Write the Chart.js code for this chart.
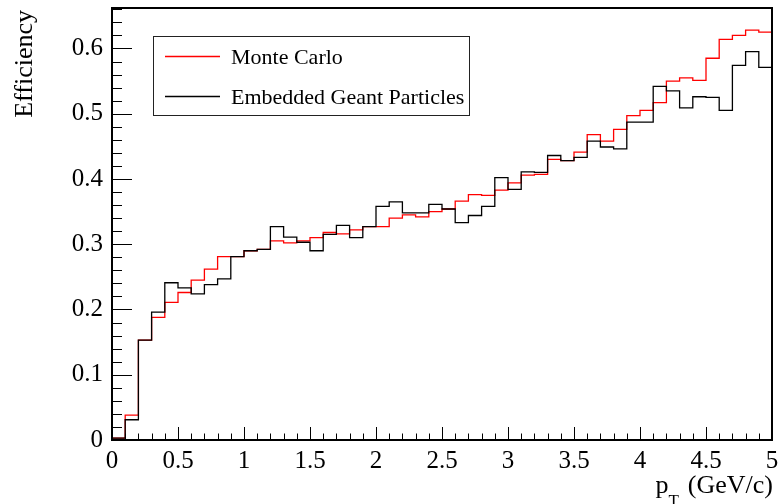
<!DOCTYPE html>
<html>
<head>
<meta charset="utf-8">
<script src="https://cdn.jsdelivr.net/npm/chart.js@4"></script>
<style>
  body { margin: 0; background: #fff; }
  #wrap { width: 778px; height: 504px; }
</style>
</head>
<body>
<div id="wrap"><canvas id="effChart" width="778" height="504"></canvas></div>
<script>
// bin low edges in pT (GeV/c), plus the upper edge of the last bin
const binEdges = [0, 0.1, 0.2, 0.3, 0.4, 0.5, 0.6, 0.7, 0.8, 0.9,
  1.0, 1.1, 1.2, 1.3, 1.4, 1.5, 1.6, 1.7, 1.8, 1.9,
  2.0, 2.1, 2.2, 2.3, 2.4, 2.5, 2.6, 2.7, 2.8, 2.9,
  3.0, 3.1, 3.2, 3.3, 3.4, 3.5, 3.6, 3.7, 3.8, 3.9,
  4.0, 4.1, 4.2, 4.3, 4.4, 4.5, 4.6, 4.7, 4.8, 4.9, 5.0];

// efficiency per bin, Monte Carlo
const monteCarlo = [0.003, 0.038, 0.153, 0.188, 0.211, 0.226, 0.245, 0.262, 0.281, 0.281,
  0.290, 0.292, 0.305, 0.302, 0.305, 0.310, 0.318, 0.316, 0.322, 0.327,
  0.327, 0.340, 0.345, 0.342, 0.350, 0.354, 0.366, 0.376, 0.375, 0.383,
  0.394, 0.406, 0.407, 0.430, 0.428, 0.441, 0.468, 0.458, 0.476, 0.497,
  0.505, 0.517, 0.550, 0.555, 0.551, 0.585, 0.614, 0.620, 0.628, 0.625];

// efficiency per bin, embedded Geant particles
const embedded = [0.003, 0.031, 0.153, 0.196, 0.241, 0.233, 0.224, 0.238, 0.247, 0.281,
  0.290, 0.292, 0.327, 0.311, 0.303, 0.290, 0.315, 0.329, 0.310, 0.327,
  0.358, 0.365, 0.348, 0.348, 0.361, 0.354, 0.333, 0.344, 0.358, 0.402,
  0.384, 0.411, 0.410, 0.436, 0.428, 0.433, 0.458, 0.449, 0.446, 0.487,
  0.487, 0.542, 0.535, 0.509, 0.526, 0.525, 0.505, 0.574, 0.595, 0.571];

const xTickLabels = ['0', '0.5', '1', '1.5', '2', '2.5', '3', '3.5', '4', '4.5', '5'];
const yTickLabels = ['0', '0.1', '0.2', '0.3', '0.4', '0.5', '0.6'];

const FONT = "'Liberation Serif', 'DejaVu Serif', serif";

// histogram -> step points (left edge of each bin, then the last upper edge)
function histPoints(values) {
  const pts = values.map((v, i) => ({ x: binEdges[i], y: v }));
  pts.push({ x: binEdges[values.length], y: values[values.length - 1] });
  return pts;
}

// frame, inner tick marks, legend box and axis titles
const rootStyle = {
  id: 'rootStyle',
  afterDraw(chart) {
    const ctx = chart.ctx;
    const area = chart.chartArea;
    const xs = chart.scales.x;
    const ys = chart.scales.y;
    ctx.save();
    ctx.strokeStyle = '#000';

    // tick marks pointing into the frame
    ctx.lineWidth = 1;
    ctx.beginPath();
    for (let i = 0; i <= 50; i++) {
      const px = Math.round(xs.getPixelForValue(i / 10)) + 0.5;
      const len = i % 5 === 0 ? 13 : 6.5;
      ctx.moveTo(px, area.bottom);
      ctx.lineTo(px, area.bottom - len);
    }
    for (let i = 0; i <= 33; i++) {
      const py = Math.round(ys.getPixelForValue(i * 0.02)) + 0.5;
      const len = i % 5 === 0 ? 20 : 10;
      ctx.moveTo(area.left, py);
      ctx.lineTo(area.left + len, py);
    }
    ctx.stroke();

    // frame
    ctx.lineWidth = 2;
    ctx.strokeRect(area.left, area.top, area.right - area.left, area.bottom - area.top);

    // legend
    ctx.fillStyle = '#fff';
    ctx.fillRect(153, 36, 317, 80);
    ctx.lineWidth = 1;
    ctx.strokeStyle = '#222';
    ctx.strokeRect(153.5, 36.5, 316, 79);
    ctx.lineWidth = 1.3;
    ctx.strokeStyle = '#ff0000';
    ctx.beginPath(); ctx.moveTo(165, 56.5); ctx.lineTo(220, 56.5); ctx.stroke();
    ctx.strokeStyle = '#000';
    ctx.beginPath(); ctx.moveTo(165, 96.5); ctx.lineTo(220, 96.5); ctx.stroke();
    ctx.fillStyle = '#000';
    ctx.font = '22px ' + FONT;
    ctx.textAlign = 'left';
    ctx.textBaseline = 'alphabetic';
    ctx.fillText('Monte Carlo', 231, 64);
    ctx.fillText('Embedded Geant Particles', 231, 104);

    // y title
    ctx.font = '26px ' + FONT;
    ctx.save();
    ctx.translate(32, 10);
    ctx.rotate(-Math.PI / 2);
    ctx.textAlign = 'right';
    ctx.fillText('Efficiency', 0, 0);
    ctx.restore();

    // x title: p_T (GeV/c)
    ctx.textAlign = 'right';
    ctx.fillText('(GeV/c)', 773, 493);
    const w = ctx.measureText('(GeV/c)').width;
    ctx.font = '17px ' + FONT;
    ctx.fillText('T', 773 - w - 9, 506);
    const wt = ctx.measureText('T').width;
    ctx.font = '26px ' + FONT;
    ctx.fillText('p', 773 - w - 9 - wt, 493);
    ctx.restore();
  }
};

new Chart(document.getElementById('effChart').getContext('2d'), {
  type: 'line',
  data: {
    datasets: [
      {
        label: 'Embedded Geant Particles',
        data: histPoints(embedded),
        borderColor: '#000000',
        borderWidth: 1.3,
        stepped: 'before',
        pointRadius: 0,
        fill: false
      },
      {
        label: 'Monte Carlo',
        data: histPoints(monteCarlo),
        borderColor: '#ff0000',
        borderWidth: 1.3,
        stepped: 'before',
        pointRadius: 0,
        fill: false
      }
    ]
  },
  options: {
    responsive: false,
    animation: false,
    layout: { padding: { top: 8, right: 6, left: 0, bottom: 0 } },
    plugins: { legend: { display: false }, tooltip: { enabled: false } },
    scales: {
      x: {
        type: 'linear',
        min: 0,
        max: 5,
        grid: { display: false, drawTicks: false },
        border: { display: false },
        afterFit: (scale) => {
          scale.height = 64;
          scale.paddingLeft = 0;
          scale.paddingRight = 0;
        },
        afterBuildTicks: (scale) => {
          scale.ticks = xTickLabels.map(t => ({ value: parseFloat(t) }));
        },
        ticks: {
          maxRotation: 0,
          autoSkip: false,
          padding: 6,
          color: '#000',
          font: { family: FONT, size: 25 },
          callback: (v, i) => xTickLabels[i]
        }
      },
      y: {
        type: 'linear',
        min: 0,
        max: 0.662,
        grid: { display: false, drawTicks: false },
        border: { display: false },
        afterFit: (scale) => {
          scale.width = 112;
          scale.paddingTop = 0;
          scale.paddingBottom = 0;
        },
        afterBuildTicks: (scale) => {
          scale.ticks = yTickLabels.map(t => ({ value: parseFloat(t) }));
        },
        ticks: {
          autoSkip: false,
          padding: 9,
          color: '#000',
          font: { family: FONT, size: 25 },
          callback: (v, i) => yTickLabels[i]
        }
      }
    }
  },
  plugins: [rootStyle]
});
</script>
</body>
</html>
